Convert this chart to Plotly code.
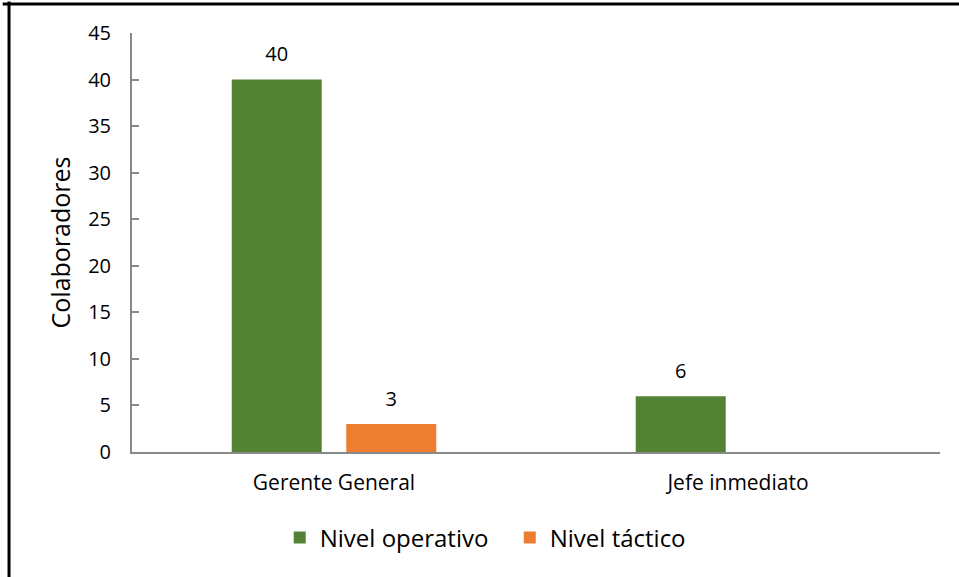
import plotly.graph_objects as go

categories = ["Gerente General", "Jefe inmediato"]
series_names = ["Nivel operativo", "Nivel táctico"]
operativo = [40, 6]
tactico = [3, None]
colors = ["#548235", "#ED7D31"]
y_ticks = [0, 5, 10, 15, 20, 25, 30, 35, 40, 45]

FONT = "Open Sans"
BARGAP = 0.433

fig = go.Figure()
for name, vals, col in zip(series_names, [operativo, tactico], colors):
    fig.add_trace(go.Bar(
        x=categories, y=vals, name=name, marker_color=col,
        marker_line_width=0, hoverinfo="skip",
    ))
for name, vals in zip(series_names, [operativo, tactico]):
    fig.add_trace(go.Scatter(
        x=categories, y=vals, mode="markers+text", showlegend=False,
        text=[str(v) if v is not None else "" for v in vals],
        textposition="top center", cliponaxis=False, hoverinfo="skip",
        marker=dict(size=20, opacity=0),
        textfont=dict(family=FONT, size=20, color="#000000"),
    ))

fig.update_layout(
    width=959, height=577,
    margin=dict(l=132, r=19, t=33, b=125),
    paper_bgcolor="white", plot_bgcolor="white",
    barmode="group", bargap=BARGAP, bargroupgap=0.214,
    scattermode="group", scattergap=BARGAP,
    showlegend=True,
    legend=dict(orientation="h", x=0.4675, xanchor="center", y=-0.205, yanchor="middle",
                font=dict(family=FONT, size=24, color="#000000"),
                itemsizing="constant", traceorder="normal", itemwidth=30,
                entrywidth=185, entrywidthmode="pixels"),
    font=dict(family=FONT, color="#000000"),
    shapes=[
        dict(type="line", xref="paper", yref="paper", x0=-0.16, x1=1.03, y0=1.0692, y1=1.0692,
             line=dict(color="#000000", width=3)),
        dict(type="line", xref="paper", yref="paper", x0=-0.1522, x1=-0.1522, y0=1.075, y1=-0.31,
             line=dict(color="#000000", width=3)),
    ],
)
fig.update_xaxes(showline=True, linecolor="#898989", linewidth=2, ticks="",
                 ticklabelstandoff=11,
                 tickfont=dict(family=FONT, size=21, color="#000000"), showgrid=False)
fig.update_yaxes(range=[0, 45], tickvals=y_ticks, showline=True, linecolor="#898989", linewidth=2,
                 ticks="inside", ticklen=7, tickcolor="#898989", tickwidth=2,
                 ticklabelstandoff=15,
                 showgrid=False, zeroline=False,
                 tickfont=dict(family=FONT, size=20, color="#000000"),
                 title=dict(text="Colaboradores", font=dict(family=FONT, size=25, color="#000000"),
                            standoff=10))

fig.write_html("out.html", config={"displayModeBar": False},
               post_script="document.body.style.margin='0';window.dispatchEvent(new Event('resize'));")
